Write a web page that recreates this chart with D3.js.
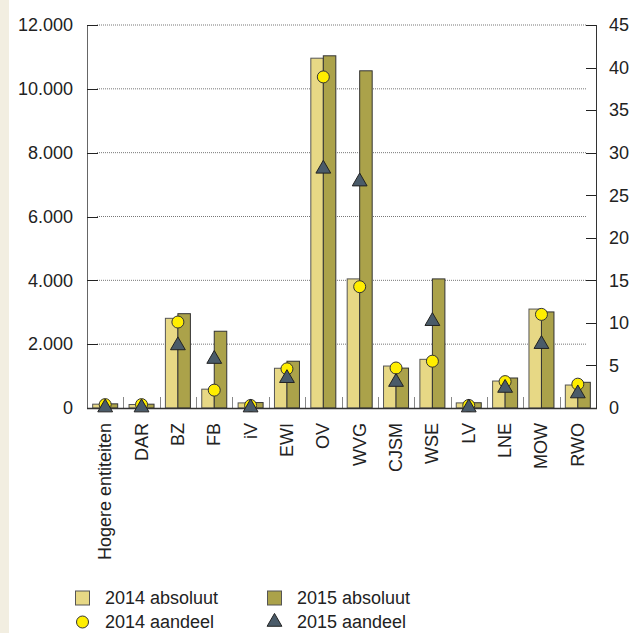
<!DOCTYPE html>
<html><head><meta charset="utf-8">
<script src="https://cdn.jsdelivr.net/npm/d3@7"></script>
<style>
html,body{margin:0;padding:0;background:#fff;}
svg{display:block;font-family:"Liberation Sans",Arial,sans-serif;}
</style></head>
<body><svg id="c" width="631" height="633"></svg>
<script>
const categories = ["Hogere entiteiten","DAR","BZ","FB","iV","EWI","OV","WVG","CJSM","WSE","LV","LNE","MOW","RWO"];
const abs2014 = [120,110,2810,590,160,1245,10960,4045,1315,1525,160,845,3100,720];
const abs2015 = [130,120,2955,2405,170,1465,11035,10565,1250,4045,165,940,3010,805];
const share2014 = [0.4,0.4,10.1,2.1,0.3,4.6,38.9,14.25,4.7,5.5,0.3,3.1,11.0,2.8];
const share2015 = [0.05,0.05,7.35,5.75,0.05,3.5,28.1,26.6,3.05,10.2,0.05,2.35,7.5,1.7];
const leftTicks = [0,2000,4000,6000,8000,10000,12000];
const rightTicks = [0,5,10,15,20,25,30,35,40,45];
const legendItems = ["2014 absoluut","2015 absoluut","2014 aandeel","2015 aandeel"];

const col14 = "#e7d885", col15 = "#aba24a", colCircle = "#ffee00", colTri = "#4a5b69";
const svg = d3.select("#c");
svg.append("rect").attr("x",0).attr("y",0).attr("width",9).attr("height",633).attr("fill","#f2eee1");

const L = 87, R = 596, T = 25, B = 408;
const x = d3.scaleBand().domain(categories).range([L,R]).padding(0);
const yL = d3.scaleLinear().domain([0,12000]).range([B,T]);
const yR = d3.scaleLinear().domain([0,45]).range([B,T]);
const fmt = d => d3.format(",")(d).replace(/,/g,".");
const bw = 12.5;

// gridlines
svg.append("g").selectAll("line").data(leftTicks.filter(d=>d>0)).join("line")
  .attr("x1",L+10).attr("x2",R-10).attr("y1",d=>yL(d)).attr("y2",d=>yL(d))
  .attr("stroke","#777").attr("stroke-width",1).attr("stroke-dasharray","1,1");

// category separator ticks
svg.append("g").selectAll("line").data(categories.slice(1)).join("line")
  .attr("x1",d=>Math.round(x(d))+0.5).attr("x2",d=>Math.round(x(d))+0.5)
  .attr("y1",B).attr("y2",B-11).attr("stroke","#888").attr("stroke-width",1);

// bars
const bars = svg.append("g");
bars.selectAll("rect.b14").data(categories).join("rect").attr("class","b14")
  .attr("x",(d)=>x(d)+x.bandwidth()/2-bw).attr("width",bw)
  .attr("y",(d,i)=>yL(abs2014[i])).attr("height",(d,i)=>B-yL(abs2014[i]))
  .attr("fill",col14).attr("stroke","#555").attr("stroke-width",1);
bars.selectAll("rect.b15").data(categories).join("rect").attr("class","b15")
  .attr("x",(d)=>x(d)+x.bandwidth()/2).attr("width",bw)
  .attr("y",(d,i)=>yL(abs2015[i])).attr("height",(d,i)=>B-yL(abs2015[i]))
  .attr("fill",col15).attr("stroke","#333").attr("stroke-width",1);

// axes lines
svg.append("line").attr("x1",L+0.5).attr("x2",L+0.5).attr("y1",T).attr("y2",B).attr("stroke","#666");
svg.append("line").attr("x1",R+0.5).attr("x2",R+0.5).attr("y1",T).attr("y2",B).attr("stroke","#333");
svg.append("line").attr("x1",L).attr("x2",R+1).attr("y1",B+0.5).attr("y2",B+0.5).attr("stroke","#333").attr("stroke-width",1.5);

// left ticks + labels
const gl = svg.append("g");
gl.selectAll("line").data(leftTicks.filter(d=>d>0)).join("line")
  .attr("x1",L).attr("x2",L+11).attr("y1",d=>Math.round(yL(d))+0.5).attr("y2",d=>Math.round(yL(d))+0.5).attr("stroke","#222");
gl.selectAll("text").data(leftTicks).join("text")
  .attr("x",73).attr("y",d=>yL(d)).attr("dy","0.35em").attr("text-anchor","end")
  .attr("font-size",18).attr("fill","#222").text(fmt);

// right ticks + labels
const gr = svg.append("g");
gr.selectAll("line").data(rightTicks.filter(d=>d>0)).join("line")
  .attr("x1",R-10).attr("x2",R).attr("y1",d=>Math.round(yR(d))+0.5).attr("y2",d=>Math.round(yR(d))+0.5).attr("stroke","#222");
gr.selectAll("text").data(rightTicks).join("text")
  .attr("x",609).attr("y",d=>yR(d)).attr("dy","0.35em").attr("text-anchor","start")
  .attr("font-size",18).attr("fill","#222").text(d=>d);

// markers
const mk = svg.append("g");
mk.selectAll("circle").data(categories).join("circle")
  .attr("cx",d=>x(d)+x.bandwidth()/2).attr("cy",(d,i)=>yR(share2014[i])).attr("r",6)
  .attr("fill",colCircle).attr("stroke","#333").attr("stroke-width",1);
const tri = d3.symbol(d3.symbolTriangle, 95);
mk.selectAll("path").data(categories).join("path")
  .attr("d",tri).attr("transform",(d,i)=>`translate(${x(d)+x.bandwidth()/2},${yR(share2015[i])})`)
  .attr("fill",colTri).attr("stroke","#222").attr("stroke-width",1);

// x labels
svg.append("g").selectAll("text").data(categories).join("text")
  .attr("transform",d=>`translate(${x(d)+x.bandwidth()/2+6},423) rotate(-90)`)
  .attr("text-anchor","end").attr("font-size",18).attr("fill","#222").text(d=>d);

// legend
const lg = svg.append("g");
const lx = [75,267], ly = [598,622];
legendItems.forEach((t,i)=>{
  const cx = lx[i%2], cy = ly[Math.floor(i/2)];
  if(i===0||i===1){
    lg.append("rect").attr("x",cx+0.5).attr("y",cy-7).attr("width",14).attr("height",14)
      .attr("fill",i===0?col14:col15).attr("stroke","#555");
  } else if(i===2){
    lg.append("circle").attr("cx",cx+7.5).attr("cy",cy).attr("r",6).attr("fill",colCircle).attr("stroke","#333");
  } else {
    lg.append("path").attr("d",tri).attr("transform",`translate(${cx+7.5},${cy})`).attr("fill",colTri).attr("stroke","#222");
  }
  lg.append("text").attr("x",cx+30).attr("y",cy).attr("dy","0.35em").attr("font-size",18).attr("fill","#222").text(t);
});
</script></body></html>
